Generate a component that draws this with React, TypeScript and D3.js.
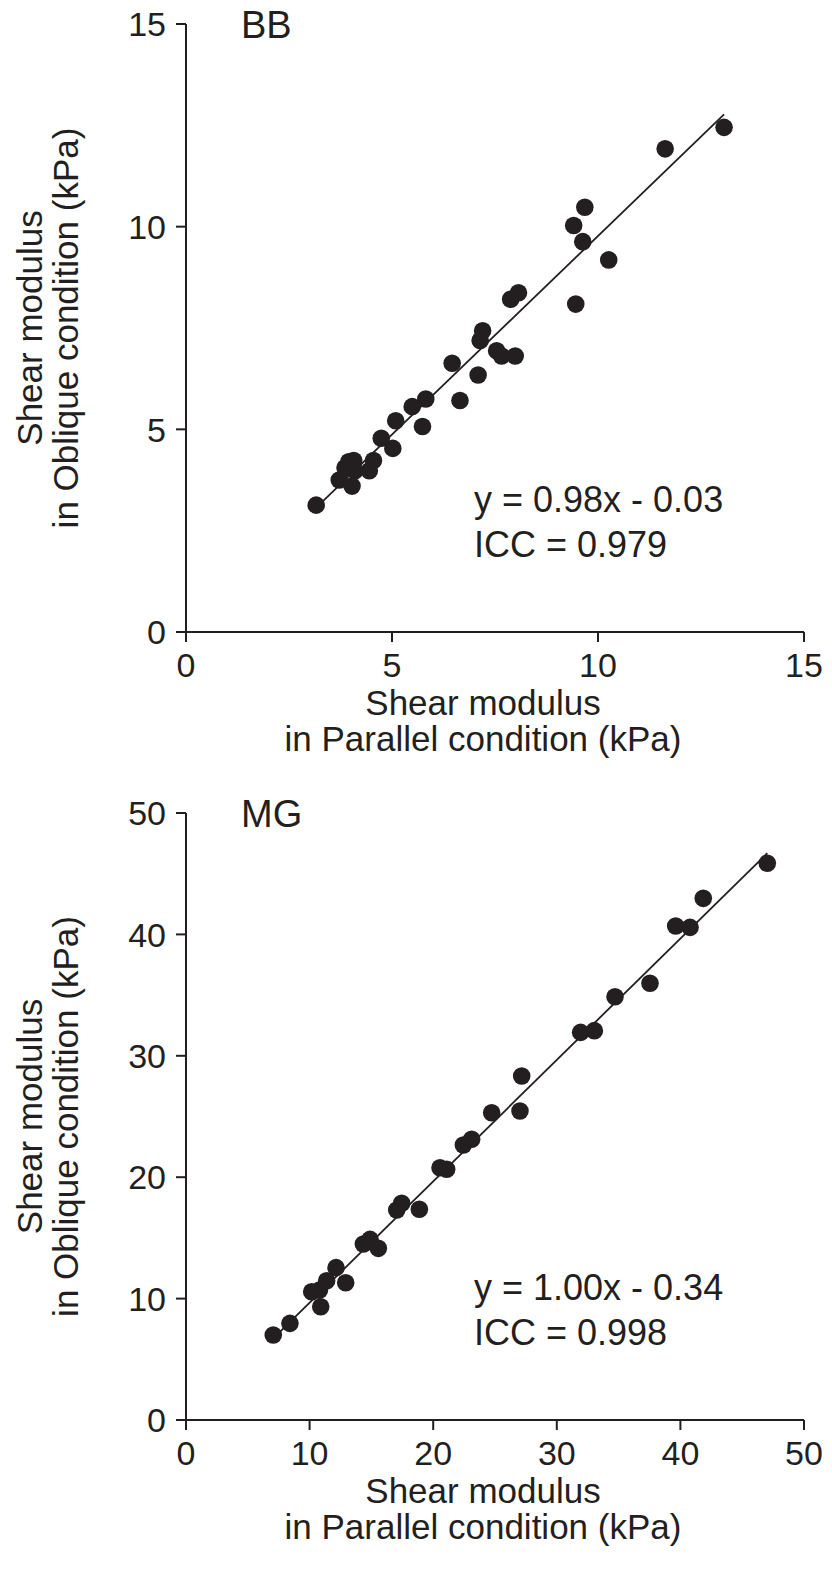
import React from "react";
import * as d3 from "d3";

// BB panel (kPa)
const bbParallel = [3.16, 3.72, 3.86, 3.95, 4.07, 4.03, 4.1, 4.45, 4.55, 4.74, 5.02, 5.09, 5.49, 5.74, 5.82, 6.46, 6.65, 7.09, 7.14, 7.2, 7.54, 7.66, 7.99, 7.88, 8.07, 9.46, 9.41, 9.68, 9.63, 10.26, 11.63, 13.06];
const bbOblique = [3.13, 3.75, 4.05, 4.2, 4.23, 3.6, 3.98, 3.98, 4.23, 4.78, 4.53, 5.21, 5.56, 5.07, 5.75, 6.63, 5.71, 6.34, 7.19, 7.43, 6.94, 6.81, 6.81, 8.21, 8.37, 8.09, 10.03, 10.48, 9.63, 9.18, 11.92, 12.45];
const bbTicks = [0, 5, 10, 15];
const bbFit = [0.98, -0.03];
const bbText = ["y = 0.98x - 0.03", "ICC = 0.979"];

// MG panel (kPa)
const mgParallel = [7.06, 8.41, 10.17, 10.8, 10.9, 11.38, 12.14, 12.92, 14.35, 14.89, 15.56, 17.05, 17.45, 18.88, 20.55, 21.09, 22.44, 23.11, 24.73, 27.02, 27.16, 31.93, 33.04, 34.71, 37.54, 39.62, 40.78, 41.85, 47.03];
const mgOblique = [7.0, 7.96, 10.57, 10.7, 9.33, 11.47, 12.55, 11.31, 14.5, 14.88, 14.14, 17.3, 17.85, 17.36, 20.78, 20.65, 22.65, 23.12, 25.31, 25.45, 28.34, 31.93, 32.07, 34.87, 35.97, 40.69, 40.58, 42.97, 45.86];
const mgTicks = [0, 10, 20, 30, 40, 50];
const mgFit = [1.0, -0.34];
const mgText = ["y = 1.00x - 0.34", "ICC = 0.998"];

const INK = "#231f20";
const FONT = "'Liberation Sans', Arial, Helvetica, sans-serif";

type PanelProps = {
  label: string;
  xs: number[];
  ys: number[];
  ticks: number[];
  fit: number[];
  note: string[];
  top: number; // y of the top of the axis (max value)
  bottom: number; // y of the x axis
};

function Panel({ label, xs, ys, ticks, fit, note, top, bottom }: PanelProps) {
  const max = ticks[ticks.length - 1];
  const x = d3.scaleLinear().domain([0, max]).range([186, 804]);
  const y = d3.scaleLinear().domain([0, max]).range([bottom, top]);

  const x0 = d3.min(xs) as number;
  const x1 = d3.max(xs) as number;
  const line = d3
    .line<number>()
    .x((d) => x(d))
    .y((d) => y(fit[0] * d + fit[1]));

  return (
    <g fontFamily={FONT} fill={INK}>
      {/* axes */}
      <line x1={x(0)} x2={x(max)} y1={y(0)} y2={y(0)} stroke={INK} strokeWidth={2} />
      <line x1={x(0)} x2={x(0)} y1={y(0)} y2={y(max)} stroke={INK} strokeWidth={2} />
      {ticks.map((t) => (
        <g key={"x" + t}>
          <line x1={x(t)} x2={x(t)} y1={y(0)} y2={y(0) + 10} stroke={INK} strokeWidth={2} />
          <text x={x(t)} y={y(0) + 45} textAnchor="middle" fontSize={34}>
            {t}
          </text>
        </g>
      ))}
      {ticks.map((t) => (
        <g key={"y" + t}>
          <line x1={x(0) - 10} x2={x(0)} y1={y(t)} y2={y(t)} stroke={INK} strokeWidth={2} />
          <text x={166} y={y(t)} dy="0.36em" textAnchor="end" fontSize={34}>
            {t}
          </text>
        </g>
      ))}

      {/* axis titles */}
      <text x={483} y={y(0) + 83} textAnchor="middle" fontSize={35}>
        Shear modulus
      </text>
      <text x={483} y={y(0) + 119} textAnchor="middle" fontSize={35}>
        in Parallel condition (kPa)
      </text>
      <g transform={`translate(42,${(y(0) + y(max)) / 2}) rotate(-90)`}>
        <text x={0} y={0} textAnchor="middle" fontSize={35}>
          Shear modulus
        </text>
        <text x={0} y={36} textAnchor="middle" fontSize={35}>
          in Oblique condition (kPa)
        </text>
      </g>

      {/* panel label */}
      <text x={241} y={y(max) + 14} fontSize={38}>
        {label}
      </text>

      {/* fit line */}
      <path d={line([x0, x1]) || ""} fill="none" stroke={INK} strokeWidth={1.8} />

      {/* points */}
      {xs.map((v, i) => (
        <circle key={i} cx={x(v)} cy={y(ys[i])} r={8.8} fill={INK} />
      ))}

      {/* equation */}
      <text x={474} y={y(0) - 120} fontSize={36}>
        {note[0]}
      </text>
      <text x={474} y={y(0) - 75} fontSize={36}>
        {note[1]}
      </text>
    </g>
  );
}

export default function App() {
  return (
    <svg
      width={832}
      height={1574}
      style={{ position: "absolute", left: 0, top: 0, background: "#fff" }}
    >
      <rect width={832} height={1574} fill="#fff" />
      <Panel label="BB" xs={bbParallel} ys={bbOblique} ticks={bbTicks} fit={bbFit} note={bbText} top={24} bottom={632} />
      <Panel label="MG" xs={mgParallel} ys={mgOblique} ticks={mgTicks} fit={mgFit} note={mgText} top={813} bottom={1420} />
    </svg>
  );
}
